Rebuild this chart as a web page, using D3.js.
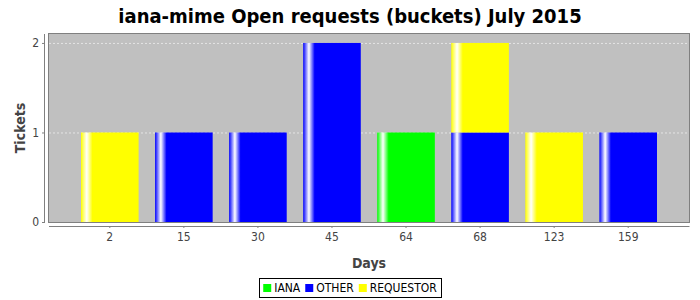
<!DOCTYPE html>
<html>
<head>
<meta charset="utf-8">
<script src="https://cdn.jsdelivr.net/npm/d3@7"></script>
<style>
  body { margin: 0; background: #fff; }
  svg { display: block; }
  text { font-family: "DejaVu Sans Condensed", "DejaVu Sans", sans-serif; }
</style>
</head>
<body>
<svg id="chart" width="700" height="300"></svg>
<script>
// data
const days = ["2", "15", "30", "45", "64", "68", "123", "159"];
const iana = [0, 0, 0, 0, 1, 0, 0, 0];
const other = [0, 1, 1, 2, 0, 1, 0, 1];
const requestor = [1, 0, 0, 0, 0, 1, 1, 0];
const seriesNames = ["IANA", "OTHER", "REQUESTOR"];
const seriesColors = ["#00ff00", "#0000ff", "#ffff00"];
const yTicks = [0, 1, 2];

const svg = d3.select("#chart");
const plot = { left: 49, right: 689, top: 34, bottom: 222 };
const W = plot.right - plot.left;

// jfreechart style category layout: 5% margins each side, 20% between bars
const lowerM = 0.05, upperM = 0.05, catM = 0.2;
const n = days.length;
const catArea = W * (1 - lowerM - upperM);
const gap = catArea * catM / (n - 1);
const barW = catArea * (1 - catM) / n;
const step = barW + gap;
const x = d3.scaleBand()
  .domain(days)
  .range([plot.left, plot.right])
  .paddingInner(gap / step)
  .paddingOuter((W / step - (n - gap / step)) / 2);

const y = d3.scaleLinear().domain([0, 2.1]).range([plot.bottom, plot.top]);

const rows = days.map((d, i) => ({ day: d, IANA: iana[i], OTHER: other[i], REQUESTOR: requestor[i] }));
const stacked = d3.stack().keys(seriesNames)(rows);

// gradients with the white stripe near the left edge
const defs = svg.append("defs");
seriesColors.forEach((c, i) => {
  const g = defs.append("linearGradient").attr("id", "g" + i)
    .attr("x1", 0).attr("x2", 1).attr("y1", 0).attr("y2", 0);
  g.append("stop").attr("offset", 0).attr("stop-color", c);
  g.append("stop").attr("offset", 0.1).attr("stop-color", "#ffffff");
  g.append("stop").attr("offset", 0.2).attr("stop-color", c);
  g.append("stop").attr("offset", 1).attr("stop-color", c);
});

// plot background
svg.append("rect")
  .attr("x", plot.left).attr("y", plot.top)
  .attr("width", W).attr("height", plot.bottom - plot.top)
  .attr("fill", "#c0c0c0");

// grid lines
svg.append("g").selectAll("line")
  .data(yTicks.filter(t => t > 0))
  .join("line")
  .attr("x1", plot.left).attr("x2", plot.right)
  .attr("y1", d => y(d) + 0.5).attr("y2", d => y(d) + 0.5)
  .attr("stroke", "#e4e4e4").attr("stroke-dasharray", "2,2");

// bars
stacked.forEach((s, si) => {
  svg.append("g").selectAll("rect")
    .data(s.filter(d => d[1] > d[0]))
    .join("rect")
    .attr("x", d => x(d.data.day))
    .attr("width", x.bandwidth())
    .attr("y", d => y(d[1]))
    .attr("height", d => y(d[0]) - y(d[1]))
    .attr("fill", "url(#g" + si + ")");
});

// plot outline
svg.append("rect")
  .attr("x", plot.left - 0.5).attr("y", plot.top - 0.5)
  .attr("width", W + 1).attr("height", plot.bottom - plot.top + 1)
  .attr("fill", "none").attr("stroke", "#808080");

// y axis (offset 4px)
const yAxis = svg.append("g")
  .attr("transform", `translate(${plot.left - 4},0)`)
  .call(d3.axisLeft(y).tickValues(yTicks).tickFormat(d3.format("d")).tickSize(3).tickPadding(3));
yAxis.select(".domain").attr("stroke", "#808080").attr("d", `M-0.5,${plot.top}V${plot.bottom + 0.5}`);
yAxis.selectAll(".tick line").attr("stroke", "#808080");
yAxis.selectAll(".tick text").attr("font-size", 12).attr("fill", "#444").attr("font-family", null);

// x axis (offset 4px)
const xAxis = svg.append("g")
  .attr("transform", `translate(0,${plot.bottom + 4})`)
  .call(d3.axisBottom(x).tickSize(2).tickPadding(4));
xAxis.select(".domain").attr("stroke", "#808080").attr("d", `M${plot.left},0.5H${plot.right + 0.5}`);
xAxis.selectAll(".tick line").attr("stroke", "#808080");
xAxis.selectAll(".tick text").attr("font-size", 12).attr("fill", "#444").attr("font-family", null);

// title and axis labels
svg.append("text")
  .attr("x", 350).attr("y", 23)
  .attr("text-anchor", "middle")
  .attr("font-size", 20).attr("font-weight", "bold").attr("fill", "#000")
  .text("iana-mime Open requests (buckets) July 2015");

svg.append("text")
  .attr("transform", `translate(25,${(plot.top + plot.bottom) / 2}) rotate(-90)`)
  .attr("text-anchor", "middle")
  .attr("font-size", 14).attr("font-weight", "bold").attr("fill", "#444")
  .text("Tickets");

svg.append("text")
  .attr("x", (plot.left + plot.right) / 2).attr("y", 268)
  .attr("text-anchor", "middle")
  .attr("font-size", 14).attr("font-weight", "bold").attr("fill", "#444")
  .text("Days");

// legend
const leg = svg.append("g");
let lx = 0;
seriesNames.forEach((name, i) => {
  const it = leg.append("g").attr("transform", `translate(${lx},0)`);
  it.append("rect").attr("x", 0).attr("y", -8).attr("width", 8).attr("height", 8)
    .attr("fill", seriesColors[i]);
  const t = it.append("text").attr("x", 11).attr("y", 0)
    .attr("font-size", 12).attr("fill", "#000").text(name);
  lx += 11 + t.node().getComputedTextLength() + 5;
});
const legW = lx - 5;
const legX = 350 - legW / 2;
leg.attr("transform", `translate(${legX},292)`);
svg.append("rect")
  .attr("x", Math.round(legX - 4) + 0.5).attr("y", 278.5)
  .attr("width", Math.round(legW + 8)).attr("height", 19)
  .attr("fill", "none").attr("stroke", "#000");
</script>
</body>
</html>
